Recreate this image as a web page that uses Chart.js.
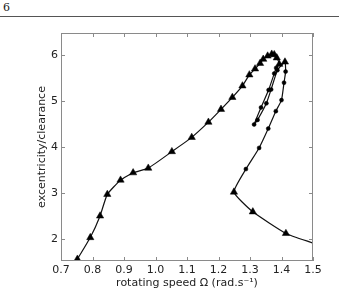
<!DOCTYPE html>
<html>
<head>
<meta charset="utf-8">
<script src="https://cdn.jsdelivr.net/npm/chart.js@4"></script>
<style>
  body { margin: 0; background: #fff; width: 339px; height: 290px; overflow: hidden; position: relative; font-family: "DejaVu Serif", serif; }
  #page { position: absolute; left: 3px; top: 1px; font-size: 11px; color: #222; }
  #rule { position: absolute; left: 0; top: 16px; width: 339px; height: 0; border-top: 1px solid #555; }
  #wrap { position: absolute; left: 0; top: 0; width: 339px; height: 290px; }
</style>
</head>
<body>
<div id="page">6</div>
<div id="rule"></div>
<div id="wrap"><canvas id="c" width="339" height="290"></canvas></div>
<script>
// response curve: rotating speed vs excentricity/clearance, one continuous path
const speed = [0.752, 0.793, 0.824, 0.847, 0.889, 0.929, 0.977, 1.052, 1.115, 1.168, 1.208, 1.244, 1.276, 1.298,
  1.316, 1.332, 1.342, 1.356, 1.369, 1.377, 1.385, 1.393,
  1.383, 1.377, 1.359, 1.335, 1.313,
  1.324, 1.352, 1.367, 1.387, 1.411,
  1.413, 1.408, 1.400, 1.382, 1.358, 1.329, 1.287,
  1.249, 1.309, 1.414, 1.5];
const excentricity = [1.56, 2.03, 2.50, 2.97, 3.28, 3.44, 3.54, 3.90, 4.21, 4.54, 4.82, 5.08, 5.33, 5.57,
  5.70, 5.82, 5.91, 5.98, 6.02, 6.01, 5.94, 5.80,
  5.72, 5.60, 5.24, 4.86, 4.49,
  4.59, 4.95, 5.25, 5.67, 5.85,
  5.64, 5.40, 5.02, 4.78, 4.40, 3.98, 3.52,
  3.02, 2.59, 2.12, 1.91];
// marker type per point: t = triangle, d = small dot, n = none
const markers = ["t","t","t","t","t","t","t","t","t","t","t","t","t","t",
  "t","t","t","t","t","t","t","t",
  "d","d","d","d","d",
  "d","d","d","d","t",
  "d","d","d","d","d","d","d",
  "t","t","t","n"];
const xTicks = [0.7, 0.8, 0.9, 1.0, 1.1, 1.2, 1.3, 1.4, 1.5];
const yTicks = [2, 3, 4, 5, 6];

const points = speed.map((x, i) => ({ x: x, y: excentricity[i] }));

const frameTicks = {
  id: "frameTicks",
  afterDraw(chart) {
    const ctx = chart.ctx;
    const a = chart.chartArea;
    const xs = chart.scales.x, ys = chart.scales.y;
    ctx.save();
    ctx.strokeStyle = "#8a8a8a";
    ctx.lineWidth = 1;
    ctx.strokeRect(a.left + 0.5, a.top + 0.5, a.right - a.left - 1, a.bottom - a.top - 1);
    ctx.beginPath();
    xTicks.forEach(v => {
      const px = Math.round(xs.getPixelForValue(v)) + 0.5;
      ctx.moveTo(px, a.bottom); ctx.lineTo(px, a.bottom - 4);
      ctx.moveTo(px, a.top); ctx.lineTo(px, a.top + 4);
    });
    yTicks.forEach(v => {
      const py = Math.round(ys.getPixelForValue(v)) + 0.5;
      ctx.moveTo(a.left, py); ctx.lineTo(a.left + 4, py);
      ctx.moveTo(a.right, py); ctx.lineTo(a.right - 4, py);
    });
    ctx.stroke();
    ctx.restore();
  }
};

new Chart(document.getElementById("c"), {
  type: "scatter",
  data: {
    datasets: [{
      data: points,
      showLine: true,
      borderColor: "#111",
      borderWidth: 1.2,
      tension: 0.15,
      backgroundColor: "#000",
      pointStyle: markers.map(m => m === "t" ? "triangle" : "circle"),
      pointRadius: markers.map(m => m === "t" ? 4.2 : (m === "d" ? 2 : 0)),
      pointBorderWidth: 0.5,
      pointBorderColor: "#000",
      pointBackgroundColor: "#000"
    }]
  },
  options: {
    responsive: false,
    animation: false,
    events: [],
    layout: { padding: { left: 36, right: 26, top: 33, bottom: 0 } },
    plugins: { legend: { display: false }, tooltip: { enabled: false } },
    scales: {
      x: {
        type: "linear",
        min: 0.7,
        max: 1.5,
        afterBuildTicks: s => { s.ticks = xTicks.map(v => ({ value: v })); },
        afterFit: s => { s.height = 29; },
        grid: { display: false, drawTicks: false },
        border: { display: false },
        ticks: {
          padding: 3,
          color: "#222",
          font: { family: "DejaVu Sans", size: 11 },
          callback: v => v.toFixed(1)
        },
        title: {
          display: true,
          text: "rotating speed \u03A9 (rad.s\u207B\u00B9)",
          color: "#222",
          padding: { top: 0, bottom: 0 },
          font: { family: "DejaVu Sans", size: 11 }
        }
      },
      y: {
        type: "linear",
        min: 1.52,
        max: 6.48,
        afterBuildTicks: s => { s.ticks = yTicks.map(v => ({ value: v })); },
        afterFit: s => { s.width = 25; },
        grid: { display: false, drawTicks: false },
        border: { display: false },
        ticks: {
          padding: 3,
          color: "#222",
          font: { family: "DejaVu Sans", size: 11 }
        },
        title: {
          display: true,
          text: "excentricity/clearance",
          color: "#222",
          padding: { top: 0, bottom: 0 },
          font: { family: "DejaVu Sans", size: 11 }
        }
      }
    }
  },
  plugins: [frameTicks]
});
</script>
</body>
</html>
